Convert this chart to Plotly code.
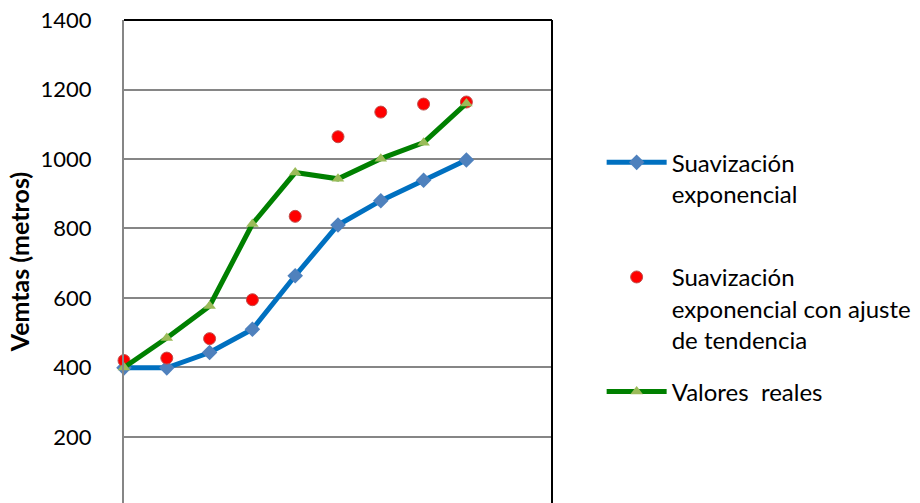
import plotly.graph_objects as go

periods = [1, 2, 3, 4, 5, 6, 7, 8, 9]
suav_exp = [399, 399, 443, 510, 664, 810, 880, 939, 997]
suav_tend = [420, 427, 483, 595, 835, 1064, 1135, 1158, 1164]
reales = [400, 485, 577, 813, 961, 943, 1001, 1047, 1160]
y_ticks = [200, 400, 600, 800, 1000, 1200, 1400]

FONT = "Lato"

fig = go.Figure()
fig.add_trace(go.Scatter(
    x=periods, y=suav_exp, mode="lines+markers",
    name="Suavización<br>exponencial<br> ",
    line=dict(color="#0070C0", width=5),
    marker=dict(symbol="diamond", size=12, color="#4F81BD"),
    legendgroup="a", cliponaxis=False,
))
fig.add_trace(go.Scatter(
    x=periods, y=suav_tend, mode="markers",
    name="Suavización<br>exponencial con ajuste<br>de tendencia",
    marker=dict(symbol="circle", size=12, color="#FF0000",
                line=dict(color="#C0504D", width=1)),
    legendgroup="b", cliponaxis=False,
))
fig.add_trace(go.Scatter(
    x=periods, y=reales, mode="lines+markers",
    name="Valores  reales",
    line=dict(color="#008000", width=5),
    marker=dict(symbol="triangle-up", size=11, color="#9BBB59"),
    legendgroup="c", cliponaxis=False,
))

fig.update_layout(
    width=920, height=503,
    margin=dict(l=124, r=368, t=20, b=0),
    paper_bgcolor="white", plot_bgcolor="white",
    font=dict(family=FONT, size=22, color="#000000"),
    legend=dict(
        x=1.116, xanchor="left", y=0.751, yanchor="top",
        font=dict(family=FONT, size=24, color="#000000"),
        tracegroupgap=18, valign="top", itemwidth=60,
        bgcolor="rgba(0,0,0,0)",
    ),
    showlegend=True,
)
fig.update_xaxes(
    range=[1, 11], showgrid=False, zeroline=False, showticklabels=False,
    showline=False, ticks="",
)
fig.update_yaxes(
    range=[10, 1400], tickvals=y_ticks, ticktext=[str(v) for v in y_ticks],
    showgrid=True, gridcolor="#868686", gridwidth=1.5, zeroline=False,
    showline=True, linecolor="#868686", linewidth=2,
    ticks="", ticklabelstandoff=26,
    tickfont=dict(family=FONT, size=22, color="#000000"),
    title=dict(text="<b>Vemtas (metros)</b>", font=dict(family=FONT, size=25, color="#000000"), standoff=4),
)
# plot-area border (top and right)
fig.add_shape(type="line", xref="x domain", yref="y domain", x0=0, x1=1, y0=1, y1=1,
              line=dict(color="#000000", width=2))
fig.add_shape(type="line", xref="x domain", yref="y domain", x0=1, x1=1, y0=0, y1=1,
              line=dict(color="#000000", width=2))

fig.write_html("out.html")
